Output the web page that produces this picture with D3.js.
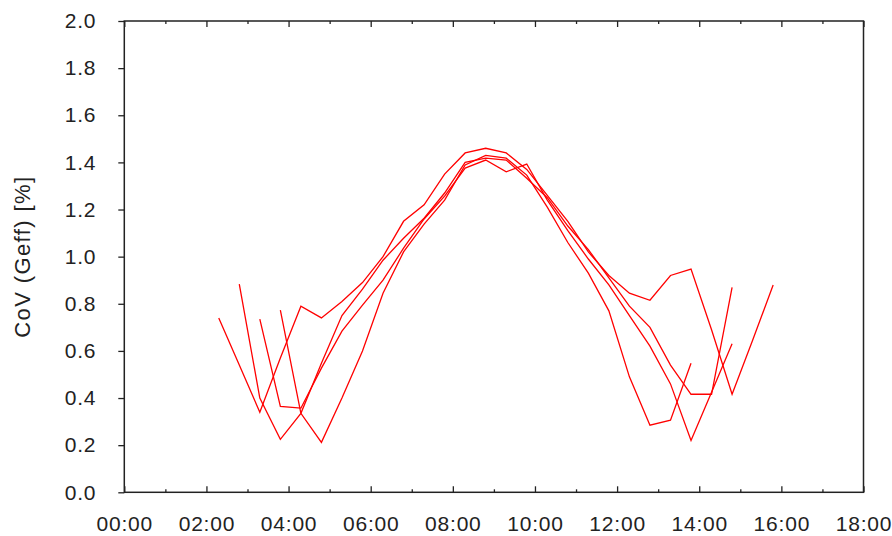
<!DOCTYPE html>
<html>
<head>
<meta charset="utf-8">
<script src="https://cdn.jsdelivr.net/npm/d3@7"></script>
<style>
  html, body { margin: 0; padding: 0; background: #fff; }
  svg { display: block; }
  .axis text { font-family: "Liberation Sans", Arial, sans-serif; font-size: 21px; fill: #222; letter-spacing: 0.8px; }
</style>
</head>
<body>
<svg id="chart" width="892" height="536"></svg>
<script>
// sample times (HH:MM)
const times = ["02:18","02:48","03:18","03:48","04:18","04:48","05:18","05:48","06:18","06:48",
  "07:18","07:48","08:18","08:48","09:18","09:48","10:18","10:48","11:18","11:48",
  "12:18","12:48","13:18","13:48","14:18","14:48","15:18","15:48"];

const seriesA = [0.74,0.54,0.34,0.57,0.79,0.74,0.81,0.89,1.00,1.15,1.22,1.35,1.44,1.46,1.44,1.37,1.26,1.15,1.02,0.92,0.845,0.815,0.92,0.947,0.69,0.416,0.645,0.88];
const seriesB = [null,0.883,0.40,0.225,0.335,0.548,0.75,0.862,0.985,1.078,1.163,1.27,1.40,1.418,1.41,1.333,1.25,1.13,1.03,0.91,0.79,0.70,0.54,0.416,0.416,0.87,null,null];
const seriesC = [null,null,0.735,0.365,0.357,0.527,0.684,0.794,0.90,1.036,1.16,1.257,1.376,1.41,1.36,1.393,1.24,1.11,0.99,0.88,0.75,0.62,0.46,0.22,0.425,0.63,null,null];
const seriesD = [null,null,null,0.773,0.335,0.212,0.40,0.60,0.845,1.02,1.138,1.24,1.389,1.43,1.418,1.346,1.21,1.06,0.93,0.77,0.49,0.285,0.306,0.548,null,null,null,null];

const xMajorTicks = ["00:00","02:00","04:00","06:00","08:00","10:00","12:00","14:00","16:00","18:00"];
const xMinorTicks = ["01:00","03:00","05:00","07:00","09:00","11:00","13:00","15:00","17:00"];
const yTicks = [0.0,0.2,0.4,0.6,0.8,1.0,1.2,1.4,1.6,1.8,2.0];
const yLabel = "CoV (Geff) [%]";

const toHours = s => { const [h, m] = s.split(":").map(Number); return h + m / 60; };

const svg = d3.select("#chart");
const L = 124.3, R = 863.5, T = 21, B = 492.3;

const x = d3.scaleLinear().domain([0, 18]).range([L, R]);
const y = d3.scaleLinear().domain([0, 2]).range([B, T]);

const axisColor = "#222";

// Lines
const line = d3.line()
  .defined(d => d.v != null)
  .x(d => x(d.t))
  .y(d => y(d.v));

[seriesA, seriesB, seriesC, seriesD].forEach(s => {
  const data = s.map((v, i) => ({ t: toHours(times[i]), v }));
  svg.append("path")
    .datum(data)
    .attr("fill", "none")
    .attr("stroke", "#ff0000")
    .attr("stroke-width", 1.3)
    .attr("stroke-linejoin", "miter")
    .attr("d", line);
});

// Bottom axis (ticks inward)
const gx = svg.append("g").attr("class", "axis").attr("transform", `translate(0,${B})`)
  .call(d3.axisBottom(x).tickValues(xMajorTicks.map(toHours))
    .tickFormat((d, i) => xMajorTicks[i]).tickSize(-6).tickSizeOuter(0).tickPadding(24));
gx.select(".domain").remove();
gx.selectAll("line").attr("stroke", axisColor).attr("stroke-width", 1.3);

const gxm = svg.append("g").attr("transform", `translate(0,${B})`)
  .call(d3.axisBottom(x).tickValues(xMinorTicks.map(toHours)).tickFormat("").tickSize(-3).tickSizeOuter(0));
gxm.select(".domain").remove();
gxm.selectAll("line").attr("stroke", axisColor).attr("stroke-width", 1.3);

// Top axis ticks (inward)
const gt = svg.append("g").attr("transform", `translate(0,${T})`)
  .call(d3.axisTop(x).tickValues(xMajorTicks.map(toHours)).tickFormat("").tickSize(-6).tickSizeOuter(0));
gt.select(".domain").remove();
gt.selectAll("line").attr("stroke", axisColor).attr("stroke-width", 1.3);
const gtm = svg.append("g").attr("transform", `translate(0,${T})`)
  .call(d3.axisTop(x).tickValues(xMinorTicks.map(toHours)).tickFormat("").tickSize(-3).tickSizeOuter(0));
gtm.select(".domain").remove();
gtm.selectAll("line").attr("stroke", axisColor).attr("stroke-width", 1.3);

// Left axis (ticks outward)
const gy = svg.append("g").attr("class", "axis").attr("transform", `translate(${L},0)`)
  .call(d3.axisLeft(y).tickValues(yTicks).tickFormat(d3.format(".1f")).tickSize(6).tickSizeOuter(0).tickPadding(22));
gy.select(".domain").remove();
gy.selectAll("line").attr("stroke", axisColor).attr("stroke-width", 1.3);

// Frame
svg.append("rect")
  .attr("x", L).attr("y", T).attr("width", R - L).attr("height", B - T)
  .attr("fill", "none").attr("stroke", axisColor).attr("stroke-width", 1.5);

// Y label
svg.append("text")
  .attr("class", "ylab")
  .attr("transform", `translate(30,${(T + B) / 2}) rotate(-90)`)
  .attr("text-anchor", "middle")
  .style("font-family", '"Liberation Sans", Arial, sans-serif')
  .style("font-size", "22px")
  .style("letter-spacing", "1.4px")
  .style("fill", "#222")
  .text(yLabel);
</script>
</body>
</html>
